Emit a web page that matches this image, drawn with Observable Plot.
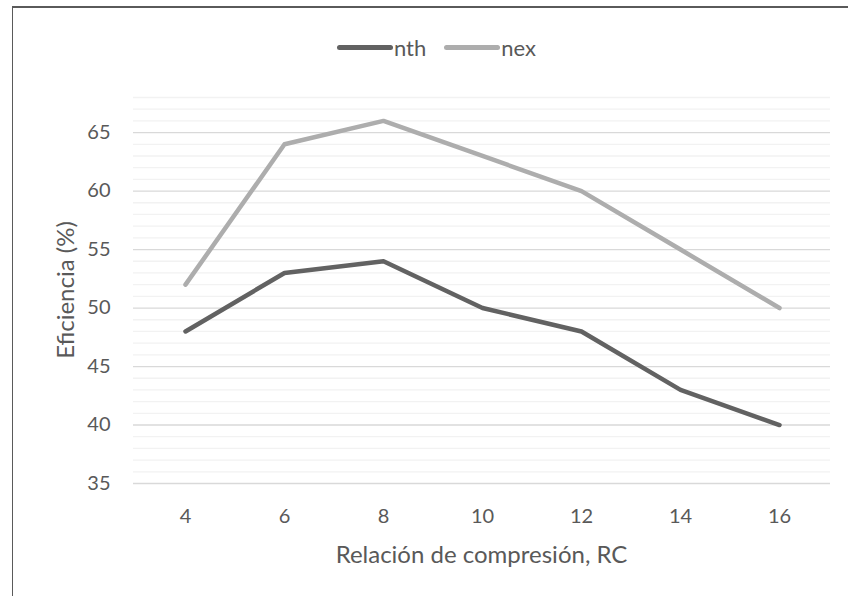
<!DOCTYPE html>
<html><head><meta charset="utf-8">
<script src="https://cdn.jsdelivr.net/npm/d3@7"></script>
<script src="https://cdn.jsdelivr.net/npm/@observablehq/plot@0.6"></script>
<style>
body{margin:0;width:848px;height:596px;overflow:hidden;background:#fff;font-family:Lato,sans-serif;color:#595959;position:relative}
#frame{position:absolute;left:12px;top:6px;width:900px;height:700px;border-left:1.5px solid #5a5a5a;border-top:2px solid #5a5a5a;box-sizing:border-box}
#chart{position:absolute;left:0;top:0}
#legend{position:absolute;left:337px;top:35px;height:24px;display:flex;align-items:center;font-size:22px;white-space:nowrap}
#legend .sw{display:inline-block;width:56px;height:5px;border-radius:3px;margin-right:1px}
#legend .item{display:flex;align-items:center;margin-right:18px}
.title{position:absolute;font-size:24px;white-space:nowrap}
#xt{left:481.5px;top:553px;transform:translate(-50%,-50%)}
#yt{left:64px;top:290px;transform:translate(-50%,-50%) rotate(-90deg)}
</style></head>
<body>
<div id="frame"></div>
<div id="chart"></div>
<div id="legend"></div>
<div class="title" id="xt"></div>
<div class="title" id="yt"></div>
<script>
const rc = [4, 6, 8, 10, 12, 14, 16];
const nth = [48, 53, 54, 50, 48, 43, 40];
const nex = [52, 64, 66, 63, 60, 55, 50];
const yTicks = [35, 40, 45, 50, 55, 60, 65];
const seriesNames = ["nth", "nex"];
const seriesColors = ["#626262", "#ADADAD"];
const xTitle = "Relación de compresión, RC";
const yTitle = "Eficiencia (%)";
const yMin = 35, yMax = 68;

const rows = [];
rc.forEach((x, i) => {
  rows.push({rc: x, v: nth[i], s: seriesNames[0]});
  rows.push({rc: x, v: nex[i], s: seriesNames[1]});
});
const minor = d3.range(yMin, yMax + 1).filter(v => !yTicks.includes(v));

const plot = Plot.plot({
  width: 848,
  height: 596,
  marginLeft: 133,
  marginRight: 18,
  marginTop: 97,
  marginBottom: 113,
  style: {fontFamily: "Lato, sans-serif", fontSize: "20px", color: "#595959", background: "transparent", overflow: "visible"},
  x: {type: "point", domain: rc, padding: 0.5, align: 0.5, tickSize: 0, tickPadding: 25, label: null},
  y: {domain: [yMin, yMax], ticks: yTicks, tickSize: 0, tickPadding: 23, label: null},
  color: {domain: seriesNames, range: seriesColors},
  marks: [
    Plot.ruleY(minor, {stroke: "#F2F2F2", strokeWidth: 1.3}),
    Plot.ruleY(yTicks, {stroke: "#D9D9D9", strokeWidth: 1.3}),
    Plot.line(rows.filter(d => d.s === "nex"), {x: "rc", y: "v", stroke: "s", strokeWidth: 4.5, strokeLinejoin: "round", strokeLinecap: "round"}),
    Plot.line(rows.filter(d => d.s === "nth"), {x: "rc", y: "v", stroke: "s", strokeWidth: 4.5, strokeLinejoin: "round", strokeLinecap: "round"})
  ]
});
document.getElementById("chart").appendChild(plot);

const lg = document.getElementById("legend");
seriesNames.forEach((n, i) => {
  const it = document.createElement("span");
  it.className = "item";
  const sw = document.createElement("span");
  sw.className = "sw";
  sw.style.background = seriesColors[i];
  it.appendChild(sw);
  it.appendChild(document.createTextNode(n));
  lg.appendChild(it);
});
document.getElementById("xt").textContent = xTitle;
document.getElementById("yt").textContent = yTitle;
</script>
</body></html>
